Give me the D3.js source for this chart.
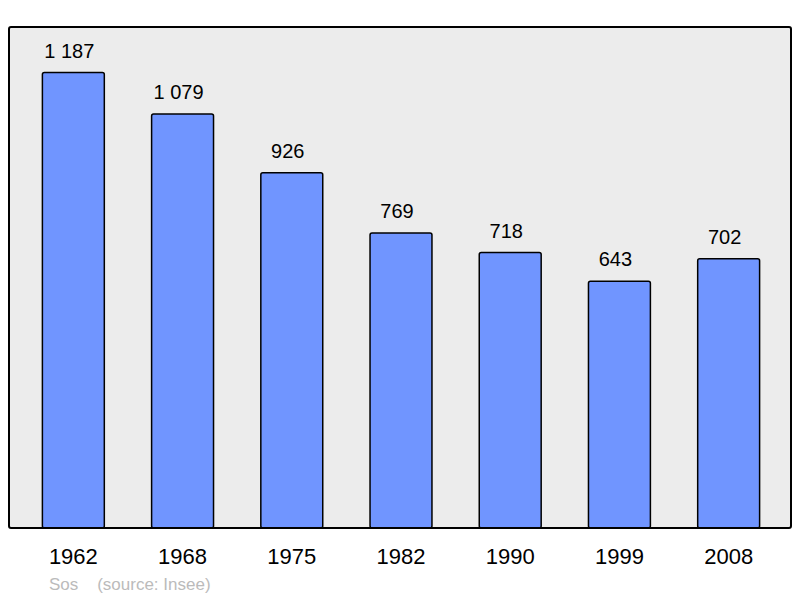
<!DOCTYPE html>
<html>
<head>
<meta charset="utf-8">
<script src="https://cdn.jsdelivr.net/npm/d3@7"></script>
<style>
  body { margin: 0; background: #fff; }
  svg { display: block; font-family: "Liberation Sans", Arial, sans-serif; }
</style>
</head>
<body>
<div id="chart"></div>
<script>
// population by census year
const years = ['1962', '1968', '1975', '1982', '1990', '1999', '2008']
const population = [1187, 1079, 926, 769, 718, 643, 702]
const valueLabels = ['1 187', '1 079', '926', '769', '718', '643', '702']

const width = 800, height = 598

// frame of the plot area
const frame = { left: 9, top: 27, right: 791, bottom: 528 }

const svg = d3.select('#chart').append('svg')
  .attr('width', width)
  .attr('height', height)

const x = d3.scaleBand()
  .domain(years)
  .range([frame.left + 1.5, frame.right + 0.5])
  .paddingInner(0.433)
  .paddingOuter(0.292)

const y = d3.scaleLinear()
  .domain([0, d3.max(population) * 1.1])
  .range([frame.bottom, frame.top])

const data = years.map((yr, i) => ({ year: yr, value: population[i], label: valueLabels[i] }))

// background panel
svg.append('rect')
  .attr('x', frame.left)
  .attr('y', frame.top)
  .attr('width', frame.right - frame.left)
  .attr('height', frame.bottom - frame.top)
  .attr('rx', 2)
  .style('fill', '#ececec')

// bars
svg.selectAll('.bar')
  .data(data)
  .enter().append('rect')
  .attr('class', 'bar')
  .attr('x', d => x(d.year))
  .attr('y', d => y(d.value))
  .attr('width', x.bandwidth())
  .attr('height', d => y(0) - y(d.value))
  .attr('rx', 2)
  .style('fill', '#7095ff')
  .style('stroke', '#000')
  .style('stroke-width', 1.5)

// value labels (sit a bit left of the bar centre, like the original)
svg.selectAll('.val')
  .data(data)
  .enter().append('text')
  .attr('class', 'val')
  .attr('x', d => x(d.year) + x.bandwidth() / 2 - 4)
  .attr('y', d => y(d.value) - 15)
  .attr('text-anchor', 'middle')
  .attr('font-size', '20px')
  .style('fill', '#000')
  .text(d => d.label)

// frame border on top of the bars
svg.append('rect')
  .attr('x', frame.left)
  .attr('y', frame.top)
  .attr('width', frame.right - frame.left)
  .attr('height', frame.bottom - frame.top)
  .attr('rx', 2)
  .style('fill', 'none')
  .style('stroke', '#000')
  .style('stroke-width', 2)

// x axis labels
const xAxis = d3.axisBottom(x).tickSize(0).tickPadding(0)
const gx = svg.append('g')
  .attr('transform', 'translate(0,' + frame.bottom + ')')
  .call(xAxis)
gx.select('.domain').remove()
gx.selectAll('text')
  .attr('y', 36)
  .attr('dy', 0)
  .attr('font-size', '22px')
  .attr('font-family', '"Liberation Sans", Arial, sans-serif')
  .style('fill', '#000')

// source note
svg.append('text')
  .attr('x', 49)
  .attr('y', 590)
  .attr('font-size', '17px')
  .style('fill', '#bbbbbb')
  .attr('xml:space', 'preserve')
  .text('Sos    (source: Insee)')
</script>
</body>
</html>
